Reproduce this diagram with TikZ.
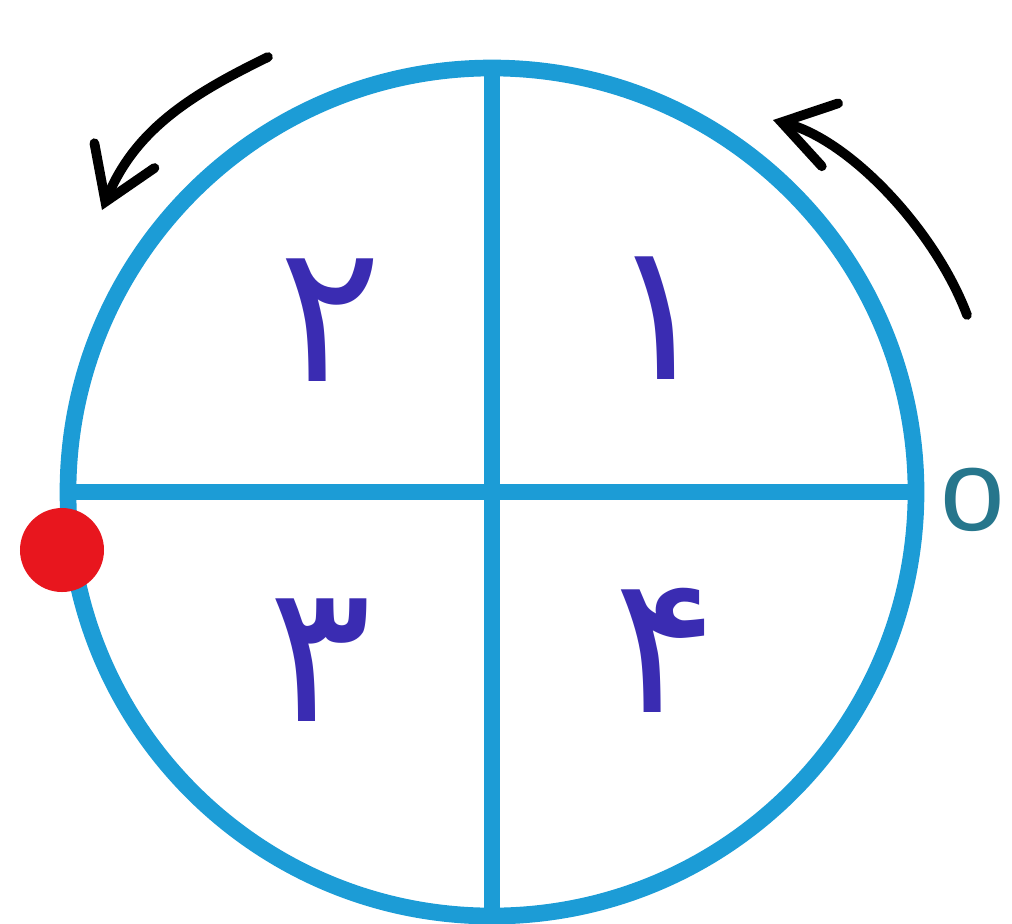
\documentclass[tikz,border=0pt]{standalone}
\usepackage{fontspec}
\usetikzlibrary{arrows.meta}
\newfontfamily\arabicfont[Script=Arabic]{DejaVu Sans}
\newfontfamily\zerofont{Liberation Sans}
\definecolor{ringblue}{RGB}{28,156,214}
\definecolor{digitblue}{RGB}{58,44,178}
\definecolor{dotred}{RGB}{232,22,30}
\definecolor{zeroteal}{RGB}{38,118,140}
\tikzset{
  quarter/.style={draw=ringblue, line width=9.5pt},
  digit/.style={text=digitblue, inner sep=0pt, font=\arabicfont\fontsize{110}{110}\selectfont},
  turn/.style={line width=5.5pt, line cap=round, -{Straight Barb[length=10mm, width=13mm, line cap=round]}}
}
\begin{document}
\begin{tikzpicture}[x=0.2mm, y=-0.2mm]
\useasboundingbox (0,0) rectangle (1012,923);

% ===== circle and axes =====
\coordinate (O) at (492,492);
\node[quarter, circle, minimum size=169.6mm, outer sep=0pt, inner sep=0pt] (ring) at (O) {};
\draw[quarter] (ring.west) -- (ring.east);
\draw[quarter] (ring.north) -- (ring.south);

% ===== quarter numbers =====
\node[digit] (q1) at (660,318) {۱};
\node[digit] (q2) at (330,320) {۲};
\node[digit] (q3) at (320,660) {۳};
\node[digit] (q4) at (665,650) {۴};

% ===== zero mark =====
\node[text=zeroteal, inner sep=0pt, font=\zerofont\fontsize{66}{66}\selectfont] (zero) at (973,500) {o};

% ===== start point =====
\node[circle, fill=dotred, minimum size=16.8mm, inner sep=0pt] (start) at (62,550) {};

% ===== turning arrows =====
\coordinate (a1) at (268,57);
\coordinate (b1) at (102,210);
\draw[turn] (a1) .. controls (190,95) and (135,130) .. (b1);

\coordinate (a2) at (967,315);
\coordinate (b2) at (773,120);
\draw[turn] (a2) .. controls (935,230) and (850,140) .. (b2);

\end{tikzpicture}
\end{document}
